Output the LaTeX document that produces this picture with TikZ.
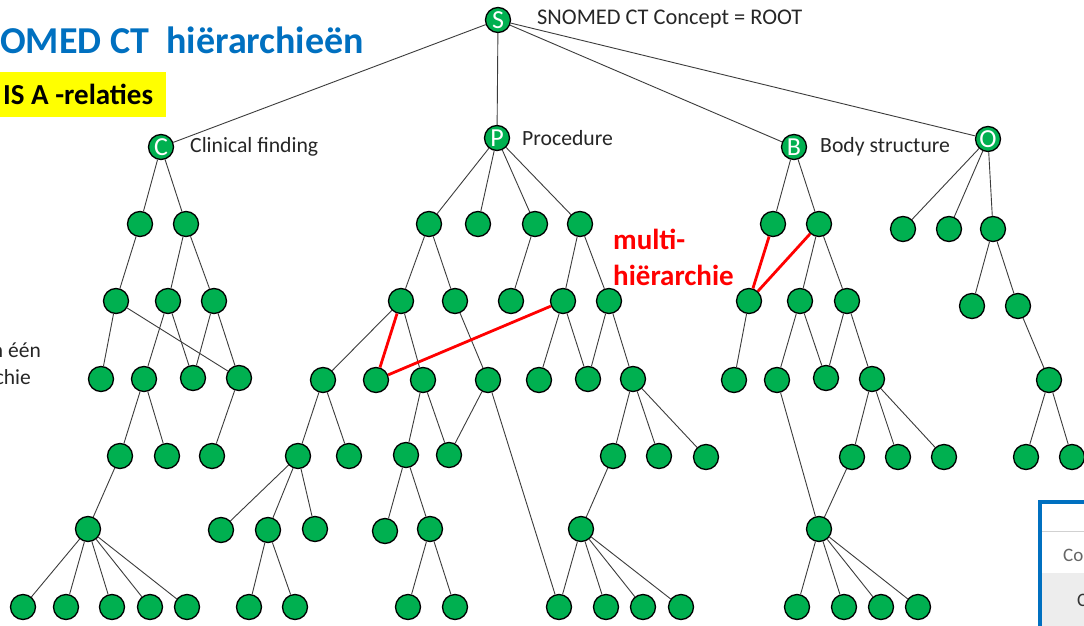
\documentclass[tikz,border=0pt]{standalone}
\usepackage{fontspec}
\setmainfont{Carlito}
\definecolor{nodegreen}{RGB}{0,176,80}
\definecolor{titleblue}{RGB}{0,112,192}
\definecolor{labelgray}{RGB}{38,38,38}
\definecolor{linegray}{RGB}{60,60,60}
\definecolor{hlyellow}{RGB}{255,255,0}
\definecolor{boxblue}{RGB}{0,112,192}
\begin{document}
\begin{tikzpicture}[x=1pt,y=-1pt,
  cnode/.style={circle,fill=nodegreen,draw=black,line width=1.3pt,minimum size=25pt,inner sep=0pt,
    text=white,font=\fontsize{26}{26}\selectfont},
  edge/.style={draw=linegray,line width=0.9pt},
  redge/.style={draw=red,line width=2.8pt},
  lbl/.style={anchor=west,text=labelgray,font=\fontsize{21.7}{24}\selectfont,inner sep=0pt},
]
\clip (0,0) rectangle (1084,626);
\fill[white] (0,0) rectangle (1084,626);

% title texts
\node[anchor=base west,inner sep=0pt,text=titleblue,font=\fontsize{38}{40}\selectfont\bfseries] (title) at (0,53) {OMED CT\ \ hiërarchieën};
\fill[hlyellow] (0,72) rectangle (166,117);
\node[anchor=base west,inner sep=0pt,font=\fontsize{29}{30}\selectfont\bfseries] (isa) at (3,104) {IS A -relaties};
\node[anchor=east,inner sep=0pt,text=labelgray,font=\fontsize{21.5}{24}\selectfont] (frag1) at (41,350) {n één};
\node[anchor=east,inner sep=0pt,text=labelgray,font=\fontsize{21.5}{24}\selectfont] (frag2) at (31,377) {chie};
\node[anchor=base west,inner sep=0pt,text=red,font=\fontsize{29}{30}\selectfont\bfseries] (mh1) at (613,249) {multi-};
\node[anchor=base west,inner sep=0pt,text=red,font=\fontsize{29}{30}\selectfont\bfseries] (mh2) at (613,285) {hiërarchie};

% root
\node[cnode] (S) at (498,20) {S};
\node[lbl,font=\fontsize{22.4}{24}\selectfont] (Slbl) at (537,19) {SNOMED CT Concept = ROOT};

% level 1
\node[cnode] (C) at (161,147) {C};
\node[lbl] (Clbl) at (190,147) {Clinical finding};
\node[cnode] (P) at (497,138) {P};
\node[lbl] (Plbl) at (522,138) {Procedure};
\node[cnode] (B) at (794,147) {B};
\node[lbl] (Blbl) at (820,147) {Body structure};
\node[cnode] (O) at (988,139) {O};

% clinical finding
\foreach \n/\x/\y in {c21/140/224,c22/186/224,
  c31/116/301,c32/168/301,c33/214/301,
  c41/101/379,c42/144/379,c43/193/378,c44/239/378,
  c51/120/456,c52/167/456,c53/212/456,
  c61/88/529,
  c71/23/607,c72/66/607,c73/112/607,c74/150/607,c75/187/607}
  \node[cnode] (\n) at (\x,\y) {};

% procedure
\foreach \n/\x/\y in {p21/429/224,p22/478/224,p23/535/224,p24/580/224,
  p31/401/301,p32/455/301,p33/511/301,p34/563/301,p35/609/301,
  p41/323/380,p42/376/380,p43/423/380,p44/488/380,p45/539/380,p46/588/379,p47/633/379,
  p51/298/456,p52/349/456,p53/406/455,p54/449/455,p55/613/456,p56/659/456,p57/706/457,
  p61/221/530,p62/268/530,p63/315/529,p64/385/531,p65/430/529,p66/581/529,
  p71/249/607,p72/295/607,p73/408/607,p74/455/607,p75/559/607,p76/606/607,p77/643/607,p78/681/607}
  \node[cnode] (\n) at (\x,\y) {};

% body structure
\foreach \n/\x/\y in {b21/773/224,b22/819/224,
  b31/749/301,b32/800/301,b33/847/301,
  b41/734/380,b42/777/380,b43/826/378,b44/872/379,
  b51/852/457,b52/898/457,b53/944/457,
  b61/819/529,
  b71/797/607,b72/844/607,b73/881/607,b74/918/607}
  \node[cnode] (\n) at (\x,\y) {};

% other
\foreach \n/\x/\y in {o21/903/229,o22/949/229,o23/993/229,
  o31/972/306,o32/1018/306,o41/1049/380,o51/1026/457,o52/1072/457}
  \node[cnode] (\n) at (\x,\y) {};

% edges
\foreach \a/\b in {S/C,S/P,S/B,S/O,
  C/c21,C/c22,c21/c31,c22/c32,c22/c33,c31/c41,c31/c44,c32/c42,c32/c43,c33/c43,c33/c44,
  c42/c51,c42/c52,c44/c53,c51/c61,c61/c71,c61/c72,c61/c73,c61/c74,c61/c75,
  P/p21,P/p22,P/p23,P/p24,p21/p31,p21/p32,p23/p33,p24/p34,p24/p35,
  p31/p41,p31/p43,p32/p44,p34/p45,p34/p46,p35/p46,p35/p47,
  p41/p51,p41/p52,p43/p53,p43/p54,p44/p54,p44/p75,p47/p55,p47/p56,p47/p57,
  p51/p61,p51/p62,p51/p63,p53/p64,p53/p65,p55/p66,p62/p71,p62/p72,p65/p73,p65/p74,
  p66/p75,p66/p76,p66/p77,p66/p78,
  B/b21,B/b22,b22/b32,b22/b33,b31/b41,b32/b42,b32/b43,b33/b43,b33/b44,
  b44/b51,b44/b52,b44/b53,b42/b61,b51/b61,b61/b71,b61/b72,b61/b73,b61/b74,
  O/o21,O/o22,O/o23,o23/o31,o23/o32,o32/o41,o41/o51,o41/o52}
  \draw[edge] (\a) -- (\b);

% multi-hierarchy (red)
\draw[redge] (p31) -- (p42);
\draw[redge] (p34) -- (p42);
\draw[redge] (b21) -- (b31);
\draw[redge] (b22) -- (b31);

% partial window at bottom right
\fill[white] (1039.5,502) rectangle (1100,640);
\fill[black!7] (1041.5,573) rectangle (1100,640);
\draw[black!18,line width=1pt] (1041.5,531) -- (1100,531);
\draw[boxblue,line width=4pt] (1100,502) -- (1039.5,502) -- (1039.5,640);
\node[anchor=west,inner sep=0pt,text=black!60,font=\fontsize{19}{20}\selectfont] (co) at (1063,555) {Co};
\node[anchor=west,inner sep=0pt,text=black!80,font=\fontsize{19}{20}\selectfont] (cc) at (1077,600) {C};
\end{tikzpicture}
\end{document}
